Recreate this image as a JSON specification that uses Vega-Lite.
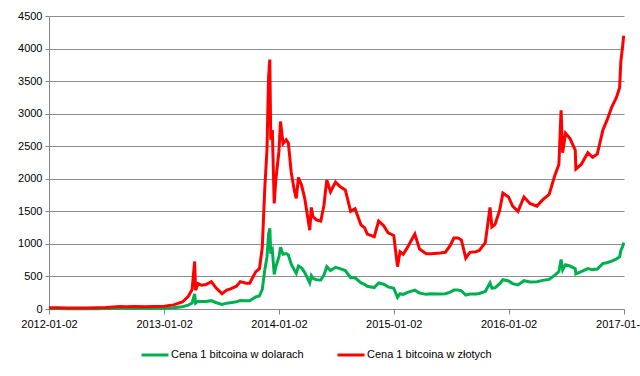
{
  "$schema": "https://vega.github.io/schema/vega-lite/v6.json",
  "width": 575,
  "height": 293,
  "autosize": {"type": "none"},
  "padding": {"left": 49, "top": 16, "right": 16, "bottom": 67},
  "background": "white",
  "datasets": {
    "usd": [
      {"d":"2012-01-02","v":5.3},{"d":"2012-02-01","v":6},{"d":"2012-03-01","v":5},{"d":"2012-04-01","v":5},{"d":"2012-05-01","v":5},{"d":"2012-06-01","v":5.3},{"d":"2012-07-01","v":6.7},{"d":"2012-08-15","v":12},{"d":"2012-09-01","v":10},{"d":"2012-10-01","v":12.4},{"d":"2012-11-01","v":10.7},{"d":"2012-12-01","v":12.6},
      {"d":"2013-01-02","v":13.3},{"d":"2013-02-01","v":20},{"d":"2013-03-01","v":34},{"d":"2013-03-20","v":60},{"d":"2013-04-01","v":93},{"d":"2013-04-09","v":230},{"d":"2013-04-12","v":90},{"d":"2013-04-20","v":120},{"d":"2013-05-01","v":116},{"d":"2013-05-15","v":115},{"d":"2013-06-01","v":128},{"d":"2013-06-15","v":100},{"d":"2013-07-05","v":70},{"d":"2013-07-20","v":90},{"d":"2013-08-01","v":97},{"d":"2013-08-20","v":110},{"d":"2013-09-01","v":130},{"d":"2013-09-20","v":125},{"d":"2013-10-01","v":125},{"d":"2013-10-20","v":185},{"d":"2013-11-01","v":200},{"d":"2013-11-10","v":300},{"d":"2013-11-18","v":600},{"d":"2013-11-25","v":800},{"d":"2013-11-30","v":1150},{"d":"2013-12-04","v":1240},{"d":"2013-12-07","v":850},{"d":"2013-12-12","v":900},{"d":"2013-12-18","v":530},{"d":"2013-12-23","v":650},
      {"d":"2014-01-02","v":800},{"d":"2014-01-07","v":950},{"d":"2014-01-15","v":840},{"d":"2014-01-25","v":850},{"d":"2014-02-01","v":830},{"d":"2014-02-10","v":690},{"d":"2014-02-20","v":600},{"d":"2014-02-26","v":550},{"d":"2014-03-05","v":660},{"d":"2014-03-15","v":630},{"d":"2014-03-25","v":560},{"d":"2014-04-10","v":400},{"d":"2014-04-15","v":510},{"d":"2014-04-20","v":470},{"d":"2014-05-01","v":450},{"d":"2014-05-15","v":445},{"d":"2014-05-25","v":520},{"d":"2014-06-03","v":650},{"d":"2014-06-15","v":590},{"d":"2014-07-01","v":640},{"d":"2014-07-15","v":620},{"d":"2014-08-01","v":590},{"d":"2014-08-18","v":480},{"d":"2014-09-01","v":480},{"d":"2014-09-20","v":400},{"d":"2014-10-01","v":380},{"d":"2014-10-10","v":350},{"d":"2014-11-01","v":330},{"d":"2014-11-15","v":400},{"d":"2014-12-01","v":380},{"d":"2014-12-15","v":340},
      {"d":"2015-01-02","v":320},{"d":"2015-01-14","v":180},{"d":"2015-01-22","v":235},{"d":"2015-02-01","v":225},{"d":"2015-02-15","v":255},{"d":"2015-03-10","v":290},{"d":"2015-03-25","v":245},{"d":"2015-04-15","v":225},{"d":"2015-05-01","v":235},{"d":"2015-05-30","v":230},{"d":"2015-06-15","v":235},{"d":"2015-07-01","v":260},{"d":"2015-07-12","v":290},{"d":"2015-07-25","v":290},{"d":"2015-08-05","v":280},{"d":"2015-08-19","v":215},{"d":"2015-09-01","v":230},{"d":"2015-09-20","v":230},{"d":"2015-10-01","v":238},{"d":"2015-10-20","v":270},{"d":"2015-11-04","v":400},{"d":"2015-11-10","v":320},{"d":"2015-11-20","v":325},{"d":"2015-12-05","v":390},{"d":"2015-12-15","v":450},
      {"d":"2016-01-02","v":430},{"d":"2016-01-15","v":390},{"d":"2016-02-01","v":370},{"d":"2016-02-20","v":435},{"d":"2016-03-10","v":415},{"d":"2016-04-01","v":420},{"d":"2016-04-20","v":440},{"d":"2016-05-10","v":455},{"d":"2016-05-28","v":520},{"d":"2016-06-10","v":575},{"d":"2016-06-17","v":760},{"d":"2016-06-22","v":600},{"d":"2016-07-01","v":680},{"d":"2016-07-15","v":660},{"d":"2016-08-01","v":620},{"d":"2016-08-03","v":540},{"d":"2016-08-20","v":575},{"d":"2016-09-10","v":620},{"d":"2016-09-25","v":605},{"d":"2016-10-10","v":615},{"d":"2016-10-28","v":700},{"d":"2016-11-10","v":710},{"d":"2016-11-25","v":735},{"d":"2016-12-10","v":770},{"d":"2016-12-20","v":800},{"d":"2016-12-24","v":900},{"d":"2016-12-30","v":960},{"d":"2017-01-02","v":1020}
    ],
    "pln": [
      {"d":"2012-01-02","v":18},{"d":"2012-02-01","v":19},{"d":"2012-03-01","v":16},{"d":"2012-04-01","v":16},{"d":"2012-05-01","v":17},{"d":"2012-06-01","v":18},{"d":"2012-07-01","v":22},{"d":"2012-08-15","v":38},{"d":"2012-09-01","v":33},{"d":"2012-10-01","v":39},{"d":"2012-11-01","v":35},{"d":"2012-12-01","v":40},
      {"d":"2013-01-02","v":41},{"d":"2013-02-01","v":63},{"d":"2013-03-01","v":108},{"d":"2013-03-20","v":195},{"d":"2013-04-01","v":300},{"d":"2013-04-09","v":730},{"d":"2013-04-12","v":290},{"d":"2013-04-20","v":390},{"d":"2013-05-01","v":365},{"d":"2013-05-15","v":375},{"d":"2013-06-01","v":420},{"d":"2013-06-15","v":330},{"d":"2013-07-05","v":235},{"d":"2013-07-20","v":290},{"d":"2013-08-01","v":310},{"d":"2013-08-20","v":350},{"d":"2013-09-01","v":420},{"d":"2013-09-20","v":395},{"d":"2013-10-01","v":395},{"d":"2013-10-20","v":570},{"d":"2013-11-01","v":620},{"d":"2013-11-10","v":940},{"d":"2013-11-18","v":1850},{"d":"2013-11-25","v":2450},{"d":"2013-11-30","v":3550},{"d":"2013-12-04","v":3830},{"d":"2013-12-07","v":2600},{"d":"2013-12-12","v":2750},{"d":"2013-12-18","v":1620},{"d":"2013-12-23","v":1980},
      {"d":"2014-01-02","v":2420},{"d":"2014-01-07","v":2880},{"d":"2014-01-15","v":2540},{"d":"2014-01-25","v":2600},{"d":"2014-02-01","v":2550},{"d":"2014-02-10","v":2100},{"d":"2014-02-20","v":1820},{"d":"2014-02-26","v":1700},{"d":"2014-03-05","v":2020},{"d":"2014-03-15","v":1900},{"d":"2014-03-25","v":1700},{"d":"2014-04-10","v":1210},{"d":"2014-04-15","v":1560},{"d":"2014-04-20","v":1420},{"d":"2014-05-01","v":1370},{"d":"2014-05-15","v":1350},{"d":"2014-05-25","v":1590},{"d":"2014-06-03","v":1980},{"d":"2014-06-15","v":1800},{"d":"2014-07-01","v":1950},{"d":"2014-07-15","v":1880},{"d":"2014-08-01","v":1830},{"d":"2014-08-18","v":1500},{"d":"2014-09-01","v":1540},{"d":"2014-09-20","v":1290},{"d":"2014-10-01","v":1250},{"d":"2014-10-10","v":1150},{"d":"2014-11-01","v":1110},{"d":"2014-11-15","v":1350},{"d":"2014-12-01","v":1280},{"d":"2014-12-15","v":1170},
      {"d":"2015-01-02","v":1130},{"d":"2015-01-14","v":650},{"d":"2015-01-22","v":880},{"d":"2015-02-01","v":840},{"d":"2015-02-15","v":950},{"d":"2015-03-10","v":1150},{"d":"2015-03-25","v":920},{"d":"2015-04-15","v":850},{"d":"2015-05-01","v":850},{"d":"2015-05-30","v":860},{"d":"2015-06-15","v":870},{"d":"2015-07-01","v":980},{"d":"2015-07-12","v":1090},{"d":"2015-07-25","v":1090},{"d":"2015-08-05","v":1060},{"d":"2015-08-19","v":780},{"d":"2015-09-01","v":870},{"d":"2015-09-20","v":880},{"d":"2015-10-01","v":900},{"d":"2015-10-20","v":1020},{"d":"2015-11-04","v":1560},{"d":"2015-11-10","v":1260},{"d":"2015-11-20","v":1300},{"d":"2015-12-05","v":1520},{"d":"2015-12-15","v":1780},
      {"d":"2016-01-02","v":1720},{"d":"2016-01-15","v":1580},{"d":"2016-02-01","v":1500},{"d":"2016-02-20","v":1720},{"d":"2016-03-10","v":1620},{"d":"2016-04-01","v":1580},{"d":"2016-04-20","v":1680},{"d":"2016-05-10","v":1760},{"d":"2016-05-28","v":2050},{"d":"2016-06-10","v":2220},{"d":"2016-06-17","v":3050},{"d":"2016-06-22","v":2400},{"d":"2016-07-01","v":2700},{"d":"2016-07-15","v":2620},{"d":"2016-08-01","v":2440},{"d":"2016-08-03","v":2150},{"d":"2016-08-20","v":2220},{"d":"2016-09-10","v":2400},{"d":"2016-09-25","v":2330},{"d":"2016-10-10","v":2380},{"d":"2016-10-28","v":2750},{"d":"2016-11-10","v":2900},{"d":"2016-11-25","v":3100},{"d":"2016-12-10","v":3250},{"d":"2016-12-20","v":3400},{"d":"2016-12-24","v":3800},{"d":"2016-12-30","v":4050},{"d":"2017-01-02","v":4200}
    ]
  },
  "encoding": {
    "x": {
      "field": "d", "type": "temporal",
      "scale": {"type": "utc", "domain": [{"year": 2012, "month": 1, "date": 2, "utc": true}, {"year": 2017, "month": 1, "date": 3, "utc": true}]},
      "axis": {
        "title": null, "grid": false, "labelFlush": false, "labelOverlap": false,
        "labelExpr": "utcFormat(datum.value, '%Y-%m-%d')",
        "values": [
          {"year": 2012, "month": 1, "date": 2, "utc": true},
          {"year": 2013, "month": 1, "date": 2, "utc": true},
          {"year": 2014, "month": 1, "date": 2, "utc": true},
          {"year": 2015, "month": 1, "date": 2, "utc": true},
          {"year": 2016, "month": 1, "date": 2, "utc": true},
          {"year": 2017, "month": 1, "date": 2, "utc": true}
        ],
        "labelPadding": 4, "tickSize": 5
      }
    },
    "y": {
      "field": "v", "type": "quantitative",
      "scale": {"domain": [0, 4500], "nice": false},
      "axis": {"title": null, "grid": true, "format": "d", "values": [0, 500, 1000, 1500, 2000, 2500, 3000, 3500, 4000, 4500], "tickSize": 4, "labelPadding": 3}
    }
  },
  "layer": [
    {
      "data": {"name": "usd"},
      "mark": {"type": "line", "strokeWidth": 3},
      "encoding": {"color": {"datum": "Cena 1 bitcoina w dolarach"}}
    },
    {
      "data": {"name": "pln"},
      "mark": {"type": "line", "strokeWidth": 3},
      "encoding": {"color": {"datum": "Cena 1 bitcoina w złotych"}}
    }
  ],
  "resolve": {"scale": {"color": "shared"}},
  "config": {
    "view": {"stroke": null},
    "range": {"category": ["#00B050", "#FF0000"]},
    "axis": {
      "labelFont": "Liberation Sans", "labelFontSize": 11, "labelColor": "#000000",
      "domainColor": "#868686", "tickColor": "#868686", "gridColor": "#8c8c8c", "gridWidth": 1, "domainWidth": 1
    },
    "legend": {
      "orient": "none", "legendX": 91, "legendY": 324, "direction": "horizontal",
      "title": null, "symbolType": "stroke", "symbolSize": 729, "symbolStrokeWidth": 3,
      "labelFont": "Liberation Sans", "labelFontSize": 11, "labelColor": "#000000",
      "labelOffset": 1, "columnPadding": 27
    }
  }
}
